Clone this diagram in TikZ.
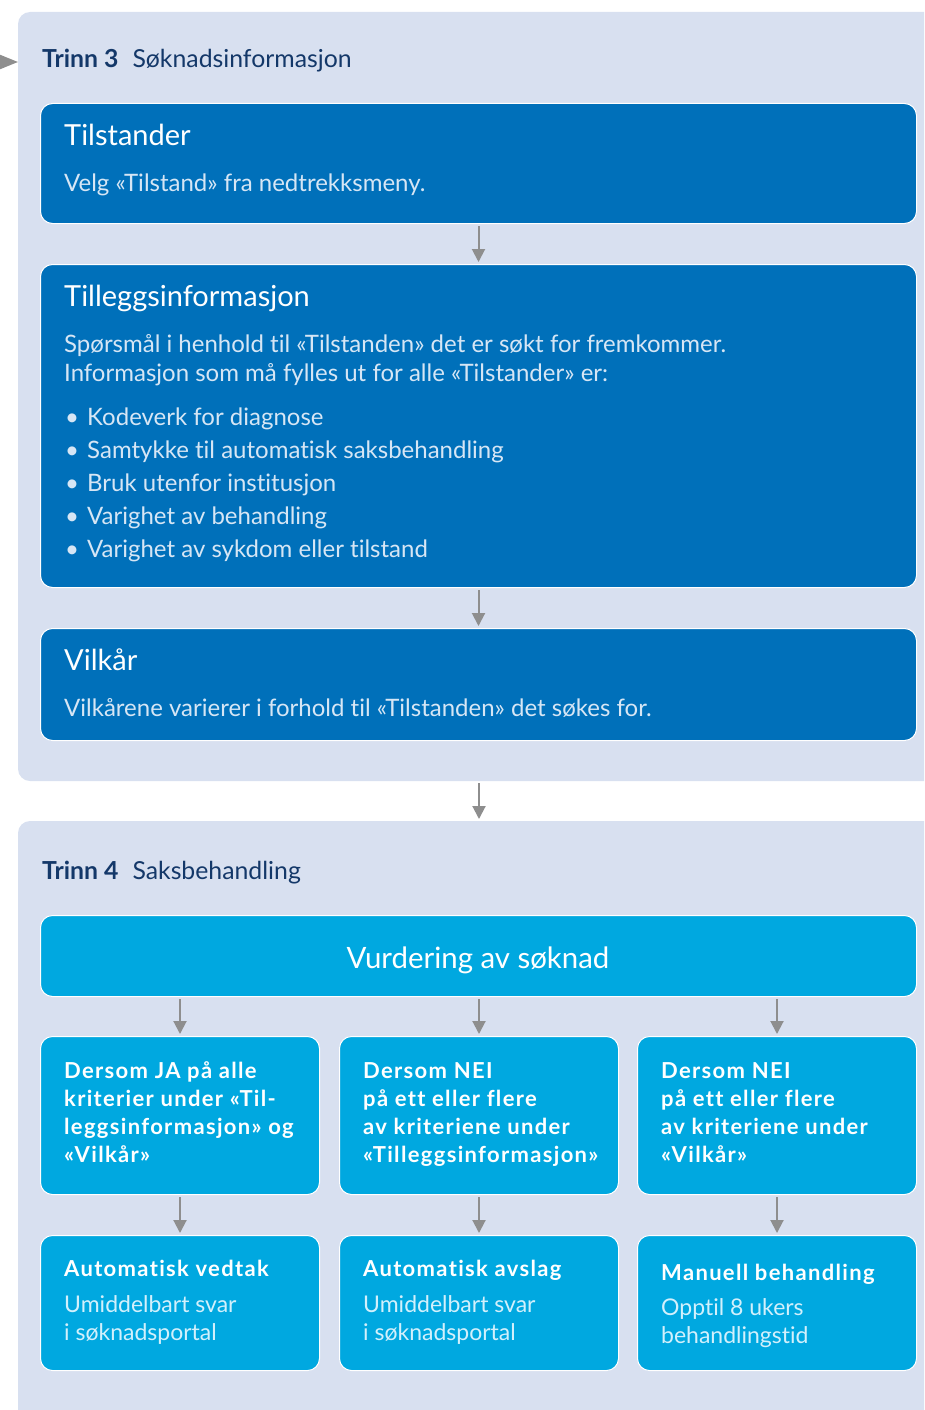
\documentclass[tikz,border=0pt]{standalone}
\usepackage{fontspec}
\setmainfont{Lato}[Ligatures={NoCommon,NoRare,NoContextual}]
\usetikzlibrary{arrows.meta}
\definecolor{panelc}{RGB}{216,224,240}
\definecolor{darkb}{RGB}{0,112,186}
\definecolor{lightb}{RGB}{0,168,224}
\definecolor{navy}{RGB}{20,56,105}
\definecolor{arrc}{RGB}{142,142,142}
\definecolor{paled}{RGB}{214,230,245}
\definecolor{palel}{RGB}{210,240,252}
\newcommand\trk{\addfontfeatures{LetterSpace=6}}
\tikzset{
  panel/.style={fill=panelc, rounded corners=12pt},
  boxd/.style={fill=darkb, draw=white, line width=1pt, rounded corners=12pt, anchor=north west, inner sep=0pt},
  boxl/.style={fill=lightb, draw=white, line width=1pt, rounded corners=12pt, anchor=north west, inner sep=0pt},
  arr/.style={draw=arrc, line width=2pt, -{Triangle[length=13pt,width=13pt]}, shorten <=2pt, shorten >=2pt},
  txt/.style={anchor=base west, inner sep=0pt},
  hd/.style={txt, text=white, font=\fontsize{29}{32}\selectfont},
  bodyd/.style={txt, text=paled, font=\fontsize{24}{26}\selectfont},
  bodyl/.style={txt, text=palel, font=\fontsize{23}{26}\selectfont},
  bhd/.style={txt, text=white, font=\bfseries\fontsize{22}{26}\selectfont\trk},
  stephd/.style={txt, text=navy, font=\fontsize{24.8}{26}\selectfont},
}
\begin{document}
\begin{tikzpicture}[x=1pt,y=-1pt]
\useasboundingbox (0,0) rectangle (924,1410);
\clip (0,0) rectangle (924,1410);
% panels
\path[panel] (18,12) rectangle (950,781);
\path[panel] (18,821) rectangle (950,1440);
\coordinate (pin) at (-20,62);
\coordinate (p3w) at (18,62);
\draw[draw=arrc, line width=2pt, -{Triangle[length=18pt,width=14pt]}] (pin) -- (p3w);
\coordinate (p3s) at (479,781);
\coordinate (p4n) at (479,821);
\draw[arr] (p3s) -- (p4n);

% Trinn 3
\node[stephd] (s3) at (42,68) {\textbf{Trinn 3}\hspace{14pt}Søknadsinformasjon};

\node[boxd, minimum width=876pt, minimum height=120pt] (tils) at (40,103) {};
\node[hd] (tilsh) at (64,146) {Tilstander};
\node[bodyd] (tilsb) at (64,191) {Velg «Tilstand» fra nedtrekksmeny.};

\node[boxd, minimum width=876pt, minimum height=323pt] (till) at (40,264) {};
\node[hd] (tillh) at (64,306) {Tilleggsinformasjon};
\node[bodyd] (tillb1) at (64,352) {Spørsmål i henhold til «Tilstanden» det er søkt for fremkommer.};
\node[bodyd] (tillb2) at (64,381) {Informasjon som må fylles ut for alle «Tilstander» er:};
\foreach \t [count=\i] in {Kodeverk for diagnose, Samtykke til automatisk saksbehandling, Bruk utenfor institusjon, Varighet av behandling, Varighet av sykdom eller tilstand}{
  \node[bodyd] (bul\i) at (65,{425+33*(\i-1)}) {•};
  \node[bodyd] (li\i) at (87,{425+33*(\i-1)}) {\t};
}

\node[boxd, minimum width=876pt, minimum height=112pt] (vilk) at (40,628) {};
\node[hd] (vilkh) at (64,670) {Vilkår};
\node[bodyd] (vilkb) at (64,716) {Vilkårene varierer i forhold til «Tilstanden» det søkes for.};

\draw[arr] (tils.south) -- (till.north);
\draw[arr] (till.south) -- (vilk.north);

% Trinn 4
\node[stephd] (s4) at (42,879) {\textbf{Trinn 4}\hspace{14pt}Saksbehandling};

\node[boxl, minimum width=876pt, minimum height=81pt] (vur) at (40,915) {};
\node[inner sep=0pt, anchor=base, text=white, font=\fontsize{29.4}{30}\selectfont] (vurt) at (478,968) {Vurdering av søknad};

\node[boxl, minimum width=279pt, minimum height=158pt] (c1) at (40,1036) {};
\node[boxl, minimum width=279pt, minimum height=158pt] (c2) at (339,1036) {};
\node[boxl, minimum width=279pt, minimum height=158pt] (c3) at (637,1036) {};

\foreach \t [count=\i] in {Dersom JA på alle, kriterier under «Til-, leggsinformasjon» og, «Vilkår»}
  \node[bhd] (c1l\i) at (64,{1078+28*(\i-1)}) {\t};
\foreach \t [count=\i] in {Dersom NEI, på ett eller flere, av kriteriene under, «Tilleggsinformasjon»}
  \node[bhd] (c2l\i) at (363,{1078+28*(\i-1)}) {\t};
\foreach \t [count=\i] in {Dersom NEI, på ett eller flere, av kriteriene under, «Vilkår»}
  \node[bhd] (c3l\i) at (661,{1078+28*(\i-1)}) {\t};

\node[boxl, minimum width=279pt, minimum height=135pt] (r1) at (40,1235) {};
\node[boxl, minimum width=279pt, minimum height=135pt] (r2) at (339,1235) {};
\node[boxl, minimum width=279pt, minimum height=135pt] (r3) at (637,1235) {};

\node[bhd] (r1h) at (64,1276) {Automatisk vedtak};
\node[bodyl] (r1a) at (64,1312) {Umiddelbart svar};
\node[bodyl] (r1b) at (64,1340) {i søknadsportal};
\node[bhd] (r2h) at (363,1276) {Automatisk avslag};
\node[bodyl] (r2a) at (363,1312) {Umiddelbart svar};
\node[bodyl] (r2b) at (363,1340) {i søknadsportal};
\node[bhd] (r3h) at (661,1280) {Manuell behandling};
\node[bodyl] (r3a) at (661,1315) {Opptil 8 ukers};
\node[bodyl] (r3b) at (661,1343) {behandlingstid};

\foreach \c in {c1,c2,c3}
  \draw[arr] (vur.south -| \c.north) -- (\c.north);
\draw[arr] (c1.south) -- (r1.north);
\draw[arr] (c2.south) -- (r2.north);
\draw[arr] (c3.south) -- (r3.north);
\end{tikzpicture}
\end{document}
